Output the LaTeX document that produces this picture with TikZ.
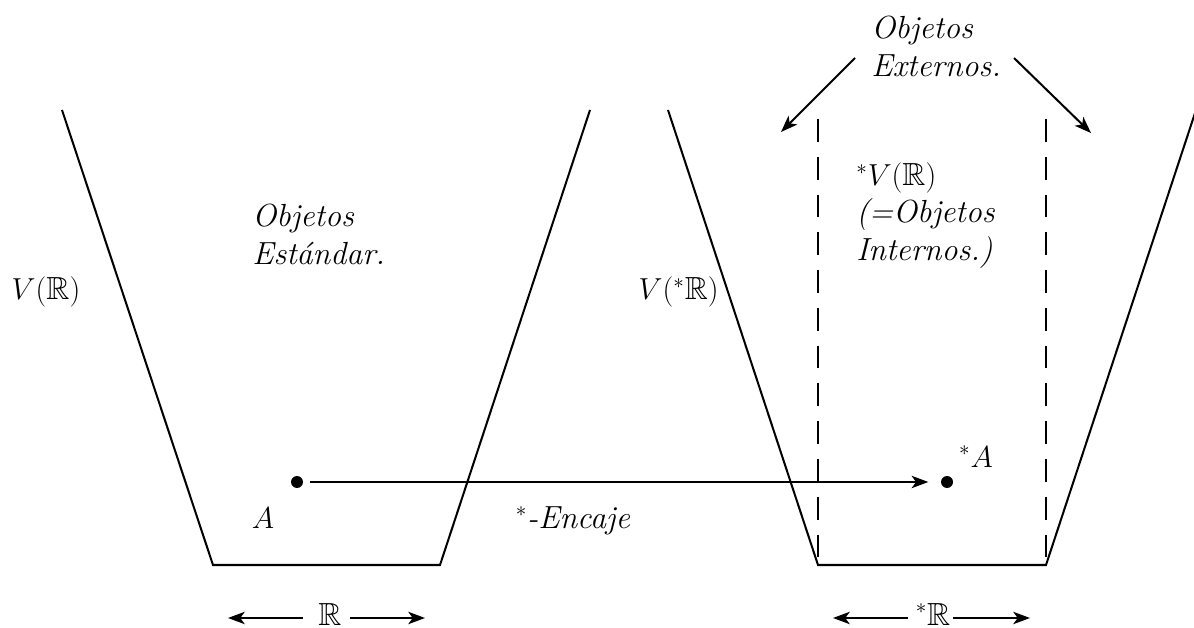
\documentclass[tikz,border=0pt]{standalone}
\usepackage{amssymb}
\usetikzlibrary{arrows.meta}
\newcommand{\bigtxt}{\fontsize{18.2}{21.5}\selectfont}
\tikzset{
  edge/.style={line width=1.15pt},
  dashedge/.style={line width=1.15pt, dash pattern=on 13pt off 8.5pt},
  arr/.style={line width=1.15pt, -{Stealth[length=9.5pt,width=7pt,inset=2.5pt]}},
  lbl/.style={font=\bigtxt, inner sep=0pt},
  itlbl/.style={font=\bigtxt\itshape, inner sep=0pt, align=left, anchor=north west},
  dot/.style={circle, fill=black, inner sep=0pt, minimum size=0.24cm},
}
\begin{document}
\begin{tikzpicture}[x=0.02cm,y=-0.02cm]
\useasboundingbox (0,0) rectangle (1194,628);
% left trapezoid
\coordinate (L1) at (62,110);
\coordinate (L2) at (213,565);
\coordinate (L3) at (440,565);
\coordinate (L4) at (590,110);
\draw[edge] (L1) -- (L2) -- (L3) -- (L4);
% right trapezoid
\coordinate (R1) at (668,110);
\coordinate (R2) at (818,565);
\coordinate (R3) at (1046,565);
\coordinate (R4) at (1196,110);
\draw[edge] (R1) -- (R2) -- (R3) -- (R4);
% dashed lines
\coordinate (D1t) at (818,119);
\coordinate (D2t) at (1046,119);
\draw[dashedge] (D1t) -- (R2);
\draw[dashedge] (D2t) -- (R3);
% labels
\node[lbl, anchor=base] (VR) at (46,300) {$V(\mathbb{R})$};
\node[lbl, anchor=base east] (VSR) at (719,300) {$V({}^*\mathbb{R})$};
\node[itlbl] (std) at (252,204) {Objetos\\Estándar.};
\node[itlbl] (int) at (856,162) {${}^*V(\mathbb{R})$\\(=Objetos\\Internos.)};
\node[itlbl] (ext) at (871,16) {Objetos\\Externos.};
% external arrows
\coordinate (e1s) at (855,58);
\coordinate (e1e) at (781,132);
\coordinate (e2s) at (1014,58);
\coordinate (e2e) at (1091,133);
\draw[arr] (e1s) -- (e1e);
\draw[arr] (e2s) -- (e2e);
% points
\node[dot] (A) at (297,482) {};
\node[dot] (SA) at (947,482) {};
\draw[arr, shorten <=4pt, shorten >=7pt] (A) -- (SA);
\node[lbl, anchor=base] (Alab) at (263,528) {$A$};
\node[lbl, anchor=base] (SAlab) at (976,467) {${}^*A$};
\node[lbl, anchor=base] (enc) at (573,528) {${}^*$\textit{-Encaje}};
% bottom widths
\node[lbl, anchor=base] (Rb) at (330,625) {$\mathbb{R}$};
\coordinate (rls) at (303,618);
\coordinate (rl) at (228,618);
\coordinate (rrs) at (350,618);
\coordinate (rr) at (425,618);
\draw[arr] (rls) -- (rl);
\draw[arr] (rrs) -- (rr);
\node[lbl, anchor=base] (SRb) at (933,625) {${}^*\mathbb{R}$};
\coordinate (srls) at (908,618);
\coordinate (srl) at (833,618);
\coordinate (srrs) at (953,618);
\coordinate (srr) at (1030,618);
\draw[arr] (srls) -- (srl);
\draw[arr] (srrs) -- (srr);
\end{tikzpicture}
\end{document}
